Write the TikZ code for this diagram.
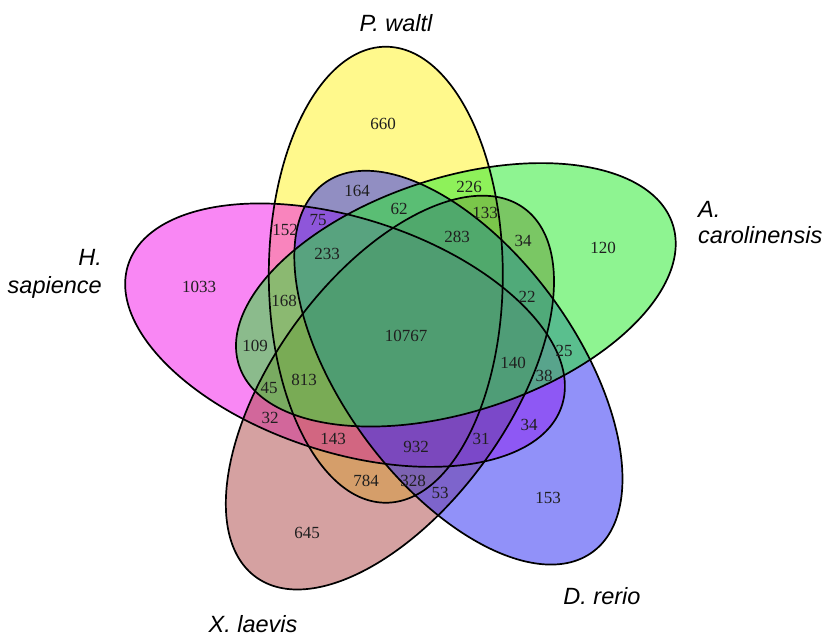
\documentclass[tikz,border=0pt]{standalone}
\usepackage{fontspec}
\setmainfont{Liberation Serif}
\newfontfamily\labelfont{Liberation Sans}
\definecolor{cYel}{RGB}{255,245,35}
\definecolor{cMag}{RGB}{245,25,235}
\definecolor{cPnk}{RGB}{175,75,75}
\definecolor{cBlu}{RGB}{45,45,245}
\definecolor{cGrn}{RGB}{40,235,45}
\begin{document}
\begin{tikzpicture}[x=1pt,y=1pt,
  setfill/.style={fill=#1, fill opacity=0.52},
  outline/.style={draw=black, line width=1.7pt},
  count/.style={font=\fontsize{17}{19}\selectfont, inner sep=0pt, text=black!88},
  species/.style={font=\labelfont\itshape\fontsize{23.5}{28}\selectfont, inner sep=0pt}]
\useasboundingbox[fill=white] (0,0) rectangle (828,638);
\coordinate (C) at (407,305);

% five congruent ellipses, each a 72 degree turn of the previous one
\foreach \k/\col in {0/cYel,1/cMag,2/cPnk,3/cBlu,4/cGrn}{
  \begin{scope}[shift={(C)}, rotate=72*\k]
    \path[setfill=\col] (110:62pt) ellipse [x radius=117pt, y radius=228pt];
  \end{scope}
}
\foreach \k in {0,...,4}{
  \begin{scope}[shift={(C)}, rotate=72*\k]
    \path[outline] (110:62pt) ellipse [x radius=117pt, y radius=228pt];
  \end{scope}
}

% region counts
\node[count] (n660) at (383,514) {660};
\node[count] (n164) at (357,447) {164};
\node[count] (n226) at (469,451) {226};
\node[count] (n62) at (399,429) {62};
\node[count] (n133) at (485,425) {133};
\node[count] (n75) at (318,418) {75};
\node[count] (n152) at (285,408) {152};
\node[count] (n283) at (457,401) {283};
\node[count] (n34a) at (523,397) {34};
\node[count] (n120) at (603,390) {120};
\node[count] (n233) at (327,384) {233};
\node[count] (n1033) at (199,351) {1033};
\node[count] (n168) at (284,337) {168};
\node[count] (n22) at (527,341) {22};
\node[count] (n10767) at (406,302) {10767};
\node[count] (n109) at (255,292) {109};
\node[count] (n25) at (564,287) {25};
\node[count] (n140) at (513,275) {140};
\node[count] (n813) at (304,258) {813};
\node[count] (n38) at (544,262) {38};
\node[count] (n45) at (269,250) {45};
\node[count] (n32) at (270,220) {32};
\node[count] (n34b) at (529,213) {34};
\node[count] (n143) at (333,199) {143};
\node[count] (n932) at (416,191) {932};
\node[count] (n31) at (481,199) {31};
\node[count] (n784) at (366,157) {784};
\node[count] (n328) at (413,157) {328};
\node[count] (n53) at (440,145) {53};
\node[count] (n153) at (548,140) {153};
\node[count] (n645) at (307,105) {645};

% species names
\node[species, anchor=base] (pw) at (396,606) {P. waltl};
\node[species, anchor=base east] (hs1) at (102,372) {H.};
\node[species, anchor=base east] (hs2) at (102,344) {sapience};
\node[species, anchor=base west] (ac1) at (698,420) {A.};
\node[species, anchor=base west] (ac2) at (698,394) {carolinensis};
\node[species, anchor=base] (dr) at (602,34) {D. rerio};
\node[species, anchor=base] (xl) at (253,6) {X. laevis};
\end{tikzpicture}
\end{document}
